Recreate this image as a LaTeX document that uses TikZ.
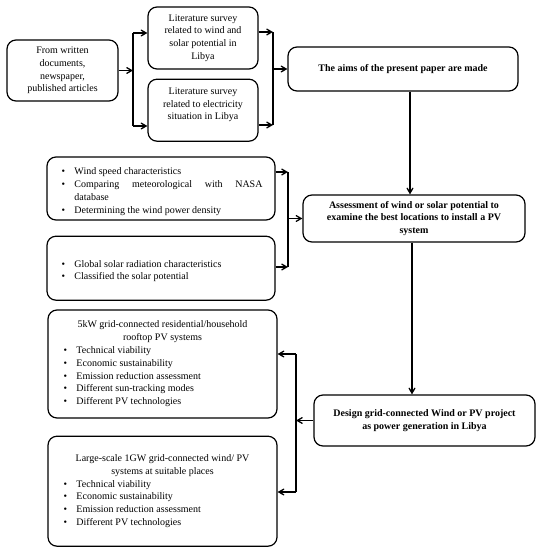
\documentclass[tikz,border=0pt]{standalone}
\usepackage{fontspec}
\setmainfont{Liberation Serif}
\usetikzlibrary{arrows, positioning}
\setlength{\parindent}{0pt}
\newcommand{\bul}[2][0pt]{\par\hangindent=\dimexpr#1+13pt\relax\hangafter=1\noindent\hspace*{#1}\makebox[13pt][l]{\textbullet}#2}
\newcommand{\ttl}[1]{{\centering #1\par}}

\begin{document}
\begin{tikzpicture}[x=1pt, y=-1pt, >=angle 60,
    box/.style={draw, line width=1.2pt, rounded corners=9pt, align=center, inner sep=3pt, font=\fontsize{10}{12.8}\selectfont},
    boldbox/.style={box, font=\fontsize{10}{12.8}\selectfont\bfseries},
    listbox/.style={draw, line width=1.2pt, rounded corners=9pt, align=justify, inner sep=3pt, font=\fontsize{10}{12.8}\selectfont},
    arr/.style={->, line width=1.3pt}]
        \useasboundingbox (0,0) rectangle (544,550);

        \node[box, minimum width=111pt, minimum height=61pt] (src) at (62.5,70.5) {From written\\documents,\\newspaper,\\published articles};
        \node[box, minimum width=110pt, minimum height=62pt] (lit1) at (203,38) {Literature survey\\related to wind and\\solar potential in\\Libya};
        \node[box, minimum width=110pt, minimum height=62pt] (lit2) [below=9pt of lit1] {Literature survey\\related to electricity\\situation in Libya\\~};
        \node[boldbox, minimum width=230pt, minimum height=44pt] (aims) at (403,69) {The aims of the present paper are made};

        \node[listbox, text width=203pt, minimum width=228pt, minimum height=63pt] (wind) at (161,188.5) {\bul[2pt]{Wind speed characteristics}\bul[2pt]{Comparing meteorological with NASA database}\bul[2pt]{Determining the wind power density}};
        \node[listbox, text width=203pt, minimum width=228pt, minimum height=64pt] (solar) [below=15pt of wind] {\bul[2pt]{Global solar radiation characteristics}\bul[2pt]{Classified the solar potential}};
        \node[boldbox, minimum width=222pt, minimum height=47pt] (assess) at (414,218.5) {Assessment of wind or solar potential to\\examine the best locations to install a PV\\system};

        \node[listbox, text width=210pt, minimum width=229pt, minimum height=108pt] (roof) at (162.5,364) {\ttl{5kW grid-connected residential/household\\rooftop PV systems}\bul[6pt]{Technical viability}\bul[6pt]{Economic sustainability}\bul[6pt]{Emission reduction assessment}\bul[6pt]{Different sun-tracking modes}\bul[6pt]{Different PV technologies}};
        \node[listbox, text width=210pt, minimum width=229pt, minimum height=110pt] (large) [below=17pt of roof] {\ttl{Large-scale 1GW grid-connected wind/ PV\\systems at suitable places}\bul[6pt]{Technical viability}\bul[6pt]{Economic sustainability}\bul[6pt]{Emission reduction assessment}\bul[6pt]{Different PV technologies}};
        \node[boldbox, minimum width=221pt, minimum height=51pt] (design) at (424.5,420.5) {Design grid-connected Wind or PV project\\as power generation in Libya};

        % first fork
        \coordinate (b1t) at (133,33);
        \coordinate (b1b) at (133,126);
        \draw[line width=1.3pt] (b1t) -- (b1b);
        \draw[arr] (src) -- (src -| b1t);
        \draw[arr] (b1t) -- (lit1.west |- b1t);
        \draw[arr] (b1b) -- (lit2.west |- b1b);

        % join into the aims
        \coordinate (b2t) at (273,32);
        \coordinate (b2b) at (273,125);
        \draw[line width=1.3pt] (b2t) -- (b2b);
        \draw[arr] (lit1.east |- b2t) -- (b2t);
        \draw[arr] (lit2.east |- b2b) -- (b2b);
        \draw[arr] (b2t |- aims) -- (aims);

        \draw[arr] ([xshift=7pt]aims.south) -- ([xshift=7pt]aims.south |- assess.north);

        % wind and solar into the assessment
        \coordinate (b3t) at (288,172);
        \coordinate (b3b) at (288,267);
        \draw[line width=1.3pt] (b3t) -- (b3b);
        \draw[arr] (wind.east |- b3t) -- (b3t);
        \draw[arr] (solar.east |- b3b) -- (b3b);
        \draw[arr] (b3t |- assess) -- (assess);

        \draw[arr] ([xshift=-2pt]assess.south) -- ([xshift=-2pt]assess.south |- design.north);

        % design out to both projects
        \coordinate (b4t) at (296,354);
        \coordinate (b4b) at (296,492);
        \draw[line width=1.3pt] (b4t) -- (b4b);
        \draw[arr] (design) -- (design -| b4t);
        \draw[arr] (b4t) -- (roof.east |- b4t);
        \draw[arr] (b4b) -- (large.east |- b4b);
\end{tikzpicture}
\end{document}
